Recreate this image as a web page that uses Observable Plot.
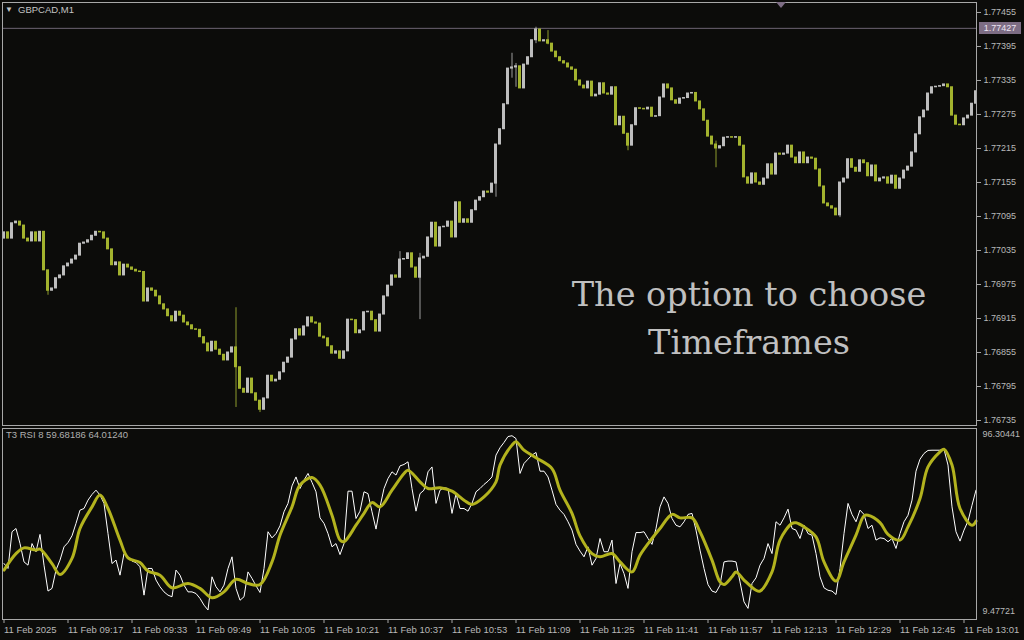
<!DOCTYPE html>
<html><head><meta charset="utf-8">
<script src="https://cdn.jsdelivr.net/npm/d3@7"></script>
<script src="https://cdn.jsdelivr.net/npm/@observablehq/plot@0.6"></script>
<style>
html,body{margin:0;padding:0;background:#0c0c0a;}
#wrap{position:relative;width:1024px;height:640px;overflow:hidden;background:#0c0c0a;font-family:"Liberation Sans",Arial,sans-serif;}
#wrap svg{position:absolute;left:0;overflow:visible;}
.lbl{position:absolute;color:#c4c4c4;font-size:9.5px;white-space:nowrap;line-height:12px;}
.over{position:absolute;left:499px;width:500px;text-align:center;color:#c0c0c0;font-family:"DejaVu Serif",serif;font-size:33.5px;line-height:48px;}
.bid{position:absolute;left:979px;width:42px;height:12px;line-height:12px;background:#7d6d84;color:#ece4f2;font-size:9px;text-align:center;}
.mark{position:absolute;left:776px;top:2px;width:0;height:0;border-left:5px solid transparent;border-right:5px solid transparent;border-top:6px solid #7d6d84;}
</style></head><body><div id="wrap"></div><script>
const symbol = "GBPCAD,M1";
const indicatorLabel = "T3 RSI 8 59.68186 64.01240";
const overlayLines = ["The option to choose", "Timeframes"];
const bidPrice = 1.77427;
const firstOpen = 1.77056;
const closes = [
1.77067,1.77056,1.77083,1.77086,1.77079,1.77056,1.77051,1.77067,1.77051,1.77068,
1.77000,1.76964,1.76968,1.76986,1.76991,1.77007,1.77012,1.77019,1.77026,1.77047,
1.77049,1.77053,1.77061,1.77068,1.77067,1.77056,1.77037,1.77009,1.77014,1.76991,
1.77010,1.77005,1.77001,1.76998,1.76997,1.76945,1.76968,1.76964,1.76954,1.76940,
1.76931,1.76919,1.76910,1.76927,1.76920,1.76908,1.76903,1.76896,1.76895,1.76882,
1.76871,1.76857,1.76874,1.76860,1.76851,1.76841,1.76855,1.76864,1.76829,1.76791,
1.76784,1.76809,1.76783,1.76770,1.76754,1.76774,1.76814,1.76804,1.76807,1.76820,
1.76837,1.76846,1.76878,1.76896,1.76885,1.76901,1.76917,1.76908,1.76906,1.76883,
1.76880,1.76866,1.76853,1.76857,1.76844,1.76857,1.76913,1.76912,1.76889,1.76894,
1.76926,1.76927,1.76912,1.76892,1.76922,1.76954,1.76973,1.76991,1.76987,1.77019,
1.77020,1.77030,1.77005,1.76987,1.77021,1.77024,1.77058,1.77084,1.77042,1.77076,
1.77077,1.77086,1.77058,1.77120,1.77084,1.77090,1.77084,1.77106,1.77123,1.77129,
1.77139,1.77137,1.77153,1.77222,1.77249,1.77293,1.77356,1.77358,1.77360,1.77321,
1.77363,1.77376,1.77406,1.77425,1.77404,1.77406,1.77400,1.77386,1.77376,1.77369,
1.77365,1.77358,1.77354,1.77335,1.77326,1.77321,1.77333,1.77307,1.77310,1.77330,
1.77312,1.77310,1.77323,1.77256,1.77271,1.77241,1.77220,1.77256,1.77286,1.77285,
1.77284,1.77287,1.77271,1.77272,1.77305,1.77328,1.77321,1.77300,1.77294,1.77303,
1.77304,1.77312,1.77313,1.77298,1.77284,1.77264,1.77236,1.77222,1.77215,1.77219,
1.77234,1.77235,1.77234,1.77235,1.77220,1.77164,1.77153,1.77171,1.77155,1.77151,
1.77162,1.77187,1.77169,1.77206,1.77204,1.77206,1.77220,1.77199,1.77189,1.77208,
1.77189,1.77199,1.77197,1.77178,1.77148,1.77118,1.77113,1.77109,1.77097,1.77155,
1.77162,1.77196,1.77181,1.77174,1.77194,1.77189,1.77166,1.77185,1.77157,1.77162,
1.77164,1.77153,1.77167,1.77144,1.77162,1.77176,1.77183,1.77208,1.77240,1.77270,
1.77282,1.77312,1.77323,1.77324,1.77325,1.77328,1.77323,1.77273,1.77257,1.77256,
1.77268,1.77273,1.77294,1.77316];
// [bar, high, low] for visible shadows
const wicks = [
[11,1.77000,1.76956],[58,1.76934,1.76758],[64,1.76770,1.76749],[99,1.77033,1.76987],
[104,1.77030,1.76913],[123,1.77222,1.77129],[127,1.77383,1.77339],[128,1.77365,1.77323],
[133,1.77429,1.77400],[136,1.77423,1.77398],[156,1.77241,1.77211],[178,1.77228,1.77181],
[209,1.77155,1.77093]];
const priceTicks = [1.77455,1.77395,1.77335,1.77275,1.77215,1.77155,1.77095,1.77035,1.76975,1.76915,1.76855,1.76795,1.76735];
const rsiTicks = [96.30441, 9.47721];
const timeTickBars = [0,16,32,48,64,80,96,112,128,144,160,176,192,208,224,240];
const timeTickLabels = ["11 Feb 2025","11 Feb 09:17","11 Feb 09:33","11 Feb 09:49","11 Feb 10:05","11 Feb 10:21","11 Feb 10:37","11 Feb 10:53","11 Feb 11:09","11 Feb 11:25","11 Feb 11:41","11 Feb 11:57","11 Feb 12:13","11 Feb 12:29","11 Feb 12:45","11 Feb 13:01"];
const rsi = [
33.0,30.6,48.6,50.2,42.8,33.8,32.2,42.8,38.8,47.3,
32.2,19.5,20.8,29.8,34.7,41.2,43.3,46.6,52.7,59.2,
60.0,64.1,66.9,69.0,66.6,62.5,47.7,33.0,34.7,27.3,
37.9,36.3,34.2,33.5,31.4,17.5,30.6,30.6,24.9,21.6,
19.1,17.5,16.7,29.8,27.3,22.4,19.1,19.1,18.3,15.9,
12.6,10.2,26.5,21.6,19.1,22.4,30.6,36.3,20.8,15.0,
16.7,28.9,25.7,22.1,18.8,30.6,48.6,45.6,47.7,51.5,
58.4,62.5,71.1,75.5,69.8,73.9,77.2,72.8,68.2,55.4,
52.7,47.7,41.2,42.8,37.4,42.8,68.5,68.5,55.1,58.7,
68.2,67.3,58.4,49.9,60.8,69.8,74.7,78.0,76.4,80.9,
81.6,82.9,69.8,58.7,67.3,69.0,78.0,80.4,62.5,69.0,
70.2,69.8,57.6,67.3,60.0,60.0,58.7,62.5,68.2,69.8,
71.8,73.4,75.5,86.2,89.8,92.4,95.3,95.7,94.3,77.2,
82.1,84.2,86.2,87.5,78.3,78.3,75.5,69.0,62.0,59.2,
57.1,53.5,49.4,42.4,39.1,36.3,41.2,32.2,35.5,45.3,
38.8,38.8,44.5,23.2,33.0,28.1,20.8,38.8,48.2,48.2,
48.6,45.3,42.4,50.2,60.8,65.7,62.5,55.1,51.8,51.0,
53.5,57.1,57.6,49.4,39.6,30.6,22.7,19.5,18.8,22.4,
33.8,34.2,34.2,33.8,24.0,14.2,11.0,23.2,26.0,32.2,
35.5,42.8,37.9,53.5,51.8,55.4,59.7,50.2,49.4,45.3,
51.8,47.7,46.9,37.9,26.5,21.1,19.9,19.5,17.8,30.6,
47.7,62.5,57.1,53.5,59.2,57.1,50.2,51.8,44.5,45.6,
45.3,43.7,45.3,40.4,47.7,53.5,56.7,64.1,78.3,84.2,
87.0,88.5,88.6,88.6,88.6,89.1,81.3,60.8,48.6,44.0,
49.4,53.8,61.6,69.0];
const t3Bars = [0,3,5,8,9,12,14,17,19,22,24,26,29,31,34,36,39,42,46,49,52,55,58,61,64,67,69,72,74,77,79,82,84,85,88,90,92,94,97,100,101,104,106,109,112,115,117,120,123,124,127,128,130,133,137,139,142,144,147,149,152,154,157,159,162,164,167,169,172,174,177,179,180,182,183,185,188,189,192,194,197,198,200,203,205,208,210,213,215,216,219,221,224,226,229,231,234,235,237,239,242,243];
const t3Vals = [29.8,37.9,40.7,39.6,40.1,33.0,27.6,35.5,50.2,60.8,66.6,60.0,44.5,35.8,33.5,29.3,27.3,21.1,23.2,20.8,16.2,19.1,25.3,23.2,22.7,33.8,46.9,60.8,71.5,75.2,71.5,56.7,44.5,43.7,51.8,57.6,62.9,60.8,69.0,77.2,78.8,73.1,69.8,70.2,68.5,64.1,62.0,65.7,73.1,81.3,91.1,92.7,88.6,84.9,79.6,69.0,57.6,46.6,37.9,36.3,37.9,33.8,28.9,37.1,45.3,50.2,57.1,55.4,55.4,48.6,34.7,24.0,22.7,26.5,28.9,24.9,19.9,19.5,28.9,44.5,52.7,53.0,51.0,46.1,33.8,24.4,33.8,46.9,56.4,56.7,53.1,47.3,44.5,51.0,64.9,80.4,87.8,89.1,81.3,60.0,51.8,53.8];

const bullBody = "#bebebe", bearBody = "#a3b32e";
const wickMap = new Map(wicks.map(w => [w[0], w]));
const candles = closes.map((c, i) => {
  const o = i === 0 ? firstOpen : closes[i - 1];
  const w = wickMap.get(i);
  return {i, open: o, close: c, high: w ? w[1] : Math.max(o, c), low: w ? w[2] : Math.min(o, c), up: c >= o};
});
const rsiData = rsi.map((v, i) => ({i, v}));
const t3Data = t3Bars.map((b, k) => ({i: b, v: t3Vals[k]}));

const xDomain = [-0.375, 243.125];
const baseStyle = {background: "none", color: "#b8b8b8", fontSize: "9px", fontFamily: "Liberation Sans, Arial, sans-serif", overflow: "visible"};

const main = Plot.plot({
  width: 1024, height: 426, marginTop: 2, marginBottom: 1, marginLeft: 2, marginRight: 48,
  style: baseStyle,
  x: {domain: xDomain, axis: null},
  y: {domain: [1.767262, 1.774726], axis: null},
  marks: [
    Plot.ruleY([bidPrice], {stroke: "#6e6474", strokeWidth: 1}),
    Plot.ruleX(candles.filter(d => d.high > d.low), {x: "i", y1: "low", y2: "high", stroke: d => d.up ? "#9c9c9c" : "#8e9c2c", strokeWidth: 1}),
    Plot.rect(candles, {x1: d => d.i - 0.375, x2: d => d.i + 0.375, y1: "open", y2: "close", fill: d => d.up ? bullBody : bearBody, insetTop: -0.5, insetBottom: -0.5}),
    Plot.frame({stroke: "#a8a8a8"}),
    Plot.axisY(priceTicks, {anchor: "right", label: null, tickSize: 4, tickPadding: 3, stroke: "#a8a8a8", tickFormat: d => d.toFixed(5)})
  ]
});

const sub = Plot.plot({
  width: 1024, height: 214, marginTop: 2, marginBottom: 21, marginLeft: 2, marginRight: 48,
  style: baseStyle,
  x: {domain: xDomain, axis: null},
  y: {domain: [5.553, 99.248], axis: null},
  marks: [
    Plot.line(rsiData, {x: "i", y: "v", stroke: "#ffffff", strokeWidth: 1}),
    Plot.line(t3Data, {x: "i", y: "v", curve: "catmull-rom", stroke: "#b3b31e", strokeWidth: 3}),
    Plot.frame({stroke: "#a8a8a8"}),
    Plot.axisY(rsiTicks, {anchor: "right", label: null, tickSize: 0, tickPadding: 6, tickFormat: d => d.toFixed(5)}),
    Plot.axisX(timeTickBars, {anchor: "bottom", label: null, tickSize: 4, tickPadding: 3, stroke: "#a8a8a8", textAnchor: "start", dx: 0, fontSize: 9.5,
      tickFormat: d => timeTickLabels[timeTickBars.indexOf(d)]})
  ]
});

const wrap = document.getElementById("wrap");
main.style.top = "0px";
sub.style.top = "426px";
wrap.appendChild(main);
wrap.appendChild(sub);

const tri = document.createElement("div");
tri.className = "lbl"; tri.style.left = "5px"; tri.style.top = "4px"; tri.style.fontSize = "8px";
tri.textContent = "\u25BC";
wrap.appendChild(tri);

const head = document.createElement("div");
head.className = "lbl"; head.style.left = "18px"; head.style.top = "4px";
head.textContent = symbol;
wrap.appendChild(head);

const ind = document.createElement("div");
ind.className = "lbl"; ind.style.left = "6px"; ind.style.top = "429px"; ind.style.color = "#b0b0b0";
ind.textContent = indicatorLabel;
wrap.appendChild(ind);

const bid = document.createElement("div");
bid.className = "bid";
bid.style.top = (main.scale("y").apply(bidPrice) - 6) + "px";
bid.textContent = bidPrice.toFixed(5);
wrap.appendChild(bid);

const mk = document.createElement("div");
mk.className = "mark";
wrap.appendChild(mk);

overlayLines.forEach((t, k) => {
  const d = document.createElement("div");
  d.className = "over"; d.style.top = (271 + k * 48) + "px";
  d.textContent = t;
  wrap.appendChild(d);
});
</script></body></html>
